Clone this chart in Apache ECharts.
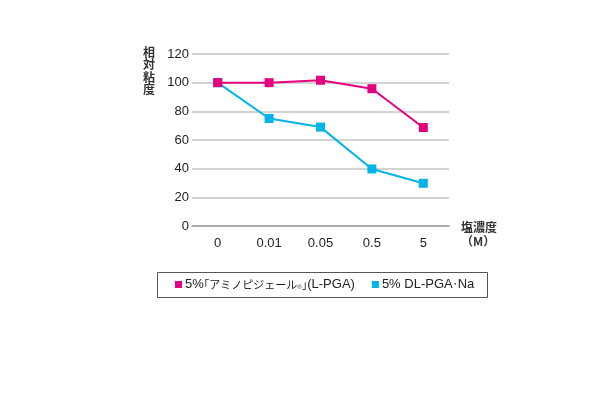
<!DOCTYPE html>
<html><head><meta charset="utf-8">
<script src="https://cdn.jsdelivr.net/npm/echarts@6/dist/echarts.min.js"></script>
<style>html,body{margin:0;padding:0;background:#fff}#c{width:606px;height:394px}</style>
</head><body><div id="c"></div>
<script>
const categories = ['0', '0.01', '0.05', '0.5', '5'];
const seriesNames = ['5%「アミノピジェール®」(L-PGA)', '5% DL-PGA･Na'];
const lpga = [100, 100, 101.7, 95.8, 68.7];
const dlpga = [100, 75, 69, 39.8, 29.8];
const yTicks = [0, 20, 40, 60, 80, 100, 120];

const FONT = '"Liberation Sans", Arial, "Noto Sans CJK JP", sans-serif';
const JP = '"Noto Sans CJK JP", sans-serif';
function legendFmt(n) {
  return n
    .replace(/「/, '{b|｢}')
    .replace(/」/, '{b|｣}')
    .replace(/([ァ-ヶー]+)/, '{k|$1}')
    .replace('®', '{r|®}')
    .replace('･', '{d|･}');
}
const chart = echarts.init(document.getElementById('c'), null, {renderer: 'canvas'});
chart.setOption({
  backgroundColor: '#fff',
  animation: false,
  grid: {left: 192, right: 157, top: 54, bottom: 168},
  xAxis: {
    type: 'category', data: categories, boundaryGap: true,
    axisLine: {lineStyle: {color: '#a0a0a0', width: 1.5}},
    axisTick: {inside: true, length: 5, lineStyle: {color: '#a0a0a0', width: 1}},
    axisLabel: {color: '#222', fontSize: 13, fontFamily: FONT, margin: 11}
  },
  yAxis: {
    type: 'value', min: yTicks[0], max: yTicks[yTicks.length - 1], interval: 20,
    axisLine: {show: false}, axisTick: {show: false},
    splitLine: {lineStyle: {color: '#c4c4c4', width: 1.5}},
    axisLabel: {color: '#222', fontSize: 13, fontFamily: FONT, margin: 3}
  },
  legend: {
    left: 175, top: 278, itemWidth: 7, itemHeight: 7, itemGap: 17,
    icon: 'rect', padding: 0,
    textStyle: {color: '#222', fontSize: 13, fontFamily: FONT, padding: [0, 0, 0, -2],
      rich: {
        k: {fontSize: 11, fontFamily: JP, color: '#222'},
        b: {fontSize: 11, fontFamily: JP, color: '#222'},
        r: {fontSize: 6, fontFamily: FONT, color: '#222', padding: [6, 0, 0, 0]},
        d: {fontSize: 10, fontFamily: JP, color: '#222'}
      }},
    formatter: legendFmt,
    data: seriesNames
  },
  graphic: [
    {type: 'rect', shape: {x: 157.5, y: 272.5, width: 330, height: 25},
     style: {fill: 'none', stroke: '#555', lineWidth: 1}, silent: true},
    {type: 'text', left: 143, top: 46,
     style: {text: '相\n対\n粘\n度', font: 'bold 12px ' + JP, fill: '#333', lineHeight: 12.5}},
    {type: 'text', left: 461, top: 220,
     style: {text: '塩濃度\n（M）', font: 'bold 12px ' + JP, fill: '#333', lineHeight: 14, align: 'center'}}
  ],
  series: [
    {name: seriesNames[0], type: 'line', data: lpga, color: '#e4007f',
     symbol: 'rect', symbolSize: 9, lineStyle: {width: 2}, z: 3},
    {name: seriesNames[1], type: 'line', data: dlpga, color: '#00b4e8',
     symbol: 'rect', symbolSize: 9, lineStyle: {width: 2}, z: 2}
  ]
});
</script></body></html>
